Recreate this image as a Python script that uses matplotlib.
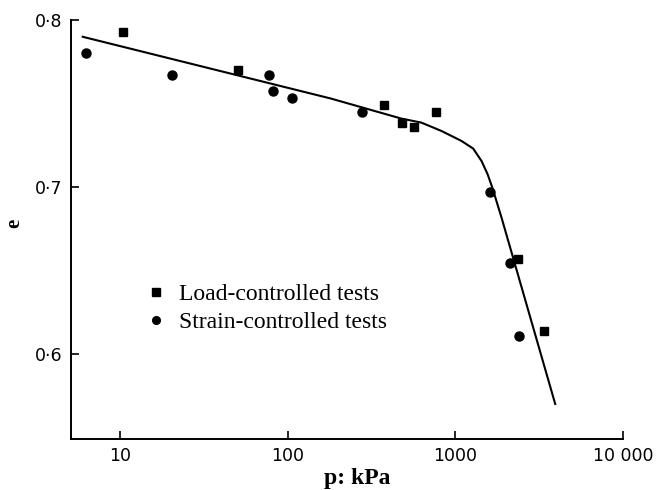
import matplotlib
matplotlib.use("Agg")
import matplotlib.pyplot as plt
import numpy as np

# data
load_p = [10.4, 50.2, 374, 482, 563, 766, 2371, 3396]
load_e = [0.793, 0.770, 0.7494, 0.7386, 0.7362, 0.745, 0.6566, 0.614]

strain_p = [6.3, 20.3, 76.9, 81.3, 106.6, 278.6, 1604, 2113, 2382]
strain_e = [0.780, 0.7674, 0.767, 0.7574, 0.7532, 0.7452, 0.697, 0.6546, 0.611]

# fitted curve (traced points)
curve_logp = [0.777, 2.257, 2.677, 2.796, 2.916, 3.036, 3.106, 3.156, 3.192, 3.220, 3.275, 3.595]
curve_e = [0.790, 0.753, 0.741, 0.7386, 0.7336, 0.7276, 0.7230, 0.7155, 0.7076, 0.6996, 0.6816, 0.570]

xticks = [10, 100, 1000, 10000]
xtick_labels = ['10', '100', '1000', '10 000']
yticks = [0.6, 0.7, 0.8]
ytick_labels = ['0·6', '0·7', '0·8']

fig = plt.figure(figsize=(6.58, 4.90), dpi=100)
ax = fig.add_axes([0.108, 0.104, 0.839, 0.855])

ax.plot(10 ** np.array(curve_logp), curve_e, color='black', linewidth=1.5)
sq, = ax.plot(load_p, load_e, 's', color='black', markersize=6.2, linestyle='none')
ci, = ax.plot(strain_p, strain_e, 'o', color='black', markersize=6.5, linestyle='none')

ax.set_xscale('log')
ax.set_xlim(5.1, 10000)
ax.set_ylim(0.549, 0.8)

ax.set_xticks(xticks)
ax.set_xticklabels(xtick_labels)
ax.set_yticks(yticks)
ax.set_yticklabels(ytick_labels)
ax.minorticks_off()
ax.tick_params(direction='in', length=6, width=1.2, labelsize=12.5, pad=6)

for s in ['top', 'right']:
    ax.spines[s].set_visible(False)
for s in ['left', 'bottom']:
    ax.spines[s].set_linewidth(1.4)

ax.set_xlabel('p: kPa', fontsize=17, fontweight='bold', family='Liberation Serif')
ax.xaxis.set_label_coords(0.518, -0.068)
ax.set_ylabel('e', fontsize=15, fontweight='bold', family='Liberation Serif')
ax.yaxis.set_label_coords(-0.085, 0.515)

ax.legend([sq, ci], ['Load-controlled tests', 'Strain-controlled tests'],
          loc='center left', bbox_to_anchor=(0.132, 0.312), frameon=False,
          prop={'family': 'Liberation Serif', 'size': 17},
          borderpad=0, borderaxespad=0, handlelength=1.0,
          handletextpad=0.5, labelspacing=0.25, markerscale=0.85)

fig.savefig('out.png', dpi=100)
